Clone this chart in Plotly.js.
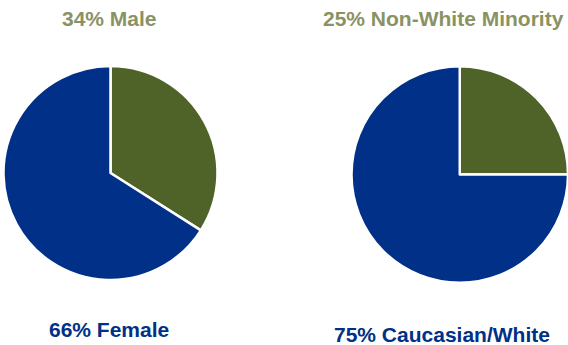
<!DOCTYPE html>
<html>
<head>
<meta charset="utf-8">
<script src="https://cdn.plot.ly/plotly-3.0.1.min.js"></script>
<style>html,body{margin:0;padding:0;background:#fff;}#chart{width:568px;height:345px;}</style>
</head>
<body>
<div id="chart"></div>
<script>
const genderLabels = ["Male", "Female"];
const genderValues = [34, 66];
const raceLabels = ["Non-White Minority", "Caucasian/White"];
const raceValues = [25, 75];
const topTexts = ["34% Male", "25% Non-White Minority"];
const bottomTexts = ["66% Female", "75% Caucasian/White"];

const GREEN = "#4F6228";
const BLUE = "#003087";
const W = 568, H = 345;

function dom(cx, cyTop, r) {
  return {x: [(cx - r) / W, (cx + r) / W], y: [(H - cyTop - r) / H, (H - cyTop + r) / H]};
}

const common = {
  type: "pie", sort: false, direction: "clockwise", rotation: 0,
  textinfo: "none", hoverinfo: "label+percent",
  marker: {colors: [GREEN, BLUE], line: {color: "#ffffff", width: 2.5}},
  showlegend: false
};

const data = [
  Object.assign({}, common, {labels: genderLabels, values: genderValues, domain: dom(110.5, 173, 107)}),
  Object.assign({}, common, {labels: raceLabels, values: raceValues, domain: dom(460, 174.5, 108.5)})
];

const fam = "Liberation Sans, Arial, sans-serif";
const ann = (text, x, y, color, size) => ({
  text: "<b>" + text + "</b>", x: x / W, y: (H - y) / H, xref: "paper", yref: "paper",
  xanchor: "center", yanchor: "middle", showarrow: false,
  font: {family: fam, size: size, color: color}
});

const layout = {
  width: W, height: H,
  margin: {l: 0, r: 0, t: 0, b: 0},
  paper_bgcolor: "#ffffff", plot_bgcolor: "#ffffff",
  annotations: [
    ann(topTexts[0], 109, 18, "#8A9264", 21),
    ann(topTexts[1], 443, 18, "#8A9264", 21),
    ann(bottomTexts[0], 109, 329.5, BLUE, 21),
    ann(bottomTexts[1], 442, 334, BLUE, 21)
  ]
};

Plotly.newPlot("chart", data, layout, {displayModeBar: false, staticPlot: true});
</script>
</body>
</html>
